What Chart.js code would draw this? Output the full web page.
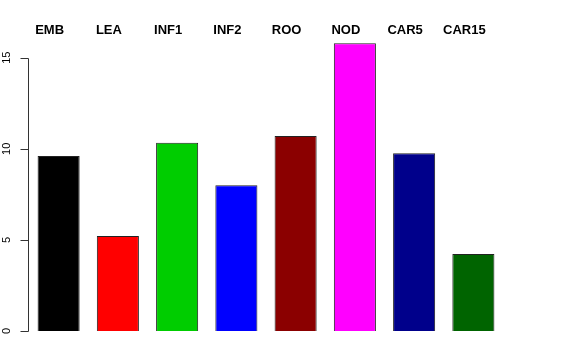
<!DOCTYPE html>
<html>
<head>
<meta charset="utf-8">
<script src="https://cdn.jsdelivr.net/npm/chart.js@4"></script>
<style>
  html, body { margin:0; padding:0; background:#fff; }
  #wrap { width:576px; height:360px; }
</style>
</head>
<body>
<div id="wrap"><canvas id="grafica"></canvas></div>
<script>
const categorias = ["EMB","LEA","INF1","INF2","ROO","NOD","CAR5","CAR15"];
const valores = [9.6, 5.21, 10.34, 8.0, 10.7, 15.8, 9.75, 4.23];
const colores = ["#000000","#FF0000","#00CD00","#0000FF","#8B0000","#FF00FF","#00008B","#006400"];
const ticksY = [0, 5, 10, 15];

// eje Y estilo R: linea solo de 0 a 15, marcas y etiquetas giradas
const ejeR = {
    id: "ejeR",
    afterDraw(chart){
        const ctx = chart.ctx;
        const y = chart.scales.y;
        const x0 = Math.round(chart.chartArea.left) - 0.5;
        ctx.save();
        ctx.strokeStyle = "#333";
        ctx.lineWidth = 1;
        ctx.beginPath();
        ctx.moveTo(x0, Math.round(y.getPixelForValue(ticksY[0])) + 0.5);
        ctx.lineTo(x0, Math.round(y.getPixelForValue(ticksY[ticksY.length-1])) + 0.5);
        ticksY.forEach(t=>{
            const py = Math.round(y.getPixelForValue(t)) + 0.5;
            ctx.moveTo(x0, py);
            ctx.lineTo(x0 - 8, py);
        });
        ctx.stroke();

        ctx.fillStyle = "#000";
        ctx.font = "11px 'Liberation Sans', Arial, sans-serif";
        ctx.textAlign = "center";
        ctx.textBaseline = "middle";
        ticksY.forEach(t=>{
            const py = y.getPixelForValue(t);
            ctx.save();
            ctx.translate(7, py);
            ctx.rotate(-Math.PI/2);
            ctx.fillText(String(t), 0, 0);
            ctx.restore();
        });
        ctx.restore();
    }
};

new Chart(document.getElementById("grafica"),{
    type:"bar",
    data:{
        labels: categorias,
        datasets:[{
            data: valores,
            backgroundColor: colores,
            borderColor: "#222",
            borderWidth: 1,
            barPercentage: 0.71,
            categoryPercentage: 1
        }]
    },
    options:{
        responsive:true,
        maintainAspectRatio:false,
        animation:false,
        layout:{ padding:{ top:23, right:73, bottom:29, left:0 } },
        plugins:{ legend:{display:false}, tooltip:{enabled:false} },
        scales:{
            x:{
                position:"top",
                grid:{ display:false, drawTicks:false },
                border:{ display:false },
                ticks:{
                    padding:0,
                    labelOffset:-9,
                    color:"#000",
                    maxRotation:0,
                    autoSkip:false,
                    font:{ family:"'Liberation Sans', Arial, sans-serif", size:13, weight:"bold" }
                }
            },
            y:{
                min:0,
                max:16.05,
                grid:{ display:false },
                border:{ display:false },
                ticks:{ display:false, stepSize:5, includeBounds:false },
                afterFit(scale){ scale.width = 29; }
            }
        }
    },
    plugins:[ejeR]
});
</script>
</body>
</html>
